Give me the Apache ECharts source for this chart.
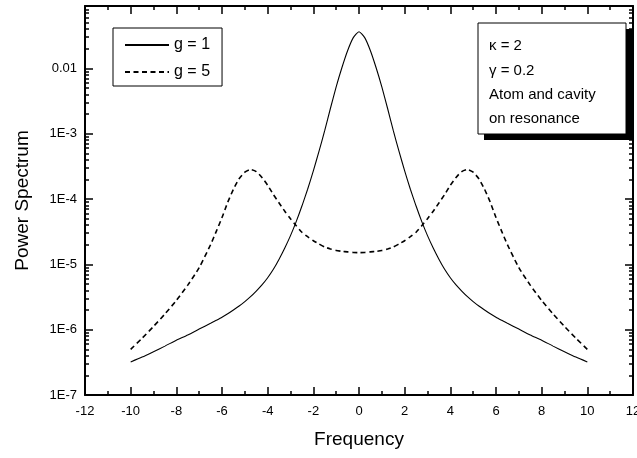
<!DOCTYPE html>
<html>
<head>
<meta charset="utf-8">
<script src="https://cdn.jsdelivr.net/npm/echarts@6/dist/echarts.min.js"></script>
<style>
html,body{margin:0;padding:0;background:#fff;}
#chart{width:637px;height:458px;}
</style>
</head>
<body>
<div id="chart"></div>
<script>
// ---- data ----
const freq = [-10,-9.5,-9,-8.5,-8,-7.5,-7,-6.5,-6.25,-6,-5.75,-5.5,-5.25,-5,-4.75,-4.5,-4.25,-4,-3.75,-3.5,-3.25,-3,-2.75,-2.5,-2.25,-2,-1.75,-1.5,-1.25,-1,-0.75,-0.5,-0.25,0,
  0.25,0.5,0.75,1,1.25,1.5,1.75,2,2.25,2.5,2.75,3,3.25,3.5,3.75,4,4.25,4.5,4.75,5,5.25,5.5,5.75,6,6.25,6.5,7,7.5,8,8.5,9,9.5,10];
const g1 = [3.2e-7,3.8e-7,4.6e-7,5.6e-7,6.9e-7,8.3e-7,1.02e-6,1.25e-6,1.39e-6,1.55e-6,1.75e-6,2.0e-6,2.3e-6,2.69e-6,3.2e-6,3.9e-6,4.84e-6,6.24e-6,8.4e-6,1.2e-5,1.78e-5,2.75e-5,4.5e-5,7.8e-5,1.41e-4,2.7e-4,5.4e-4,1.12e-3,2.45e-3,5.2e-3,1.02e-2,1.86e-2,2.95e-2,3.63e-2,
  2.95e-2,1.86e-2,1.02e-2,5.2e-3,2.45e-3,1.12e-3,5.4e-4,2.7e-4,1.41e-4,7.8e-5,4.5e-5,2.75e-5,1.78e-5,1.2e-5,8.4e-6,6.24e-6,4.84e-6,3.9e-6,3.2e-6,2.69e-6,2.3e-6,2.0e-6,1.75e-6,1.55e-6,1.39e-6,1.25e-6,1.02e-6,8.3e-7,6.9e-7,5.6e-7,4.6e-7,3.8e-7,3.2e-7];
const g5 = [5.0e-7,7.4e-7,1.12e-6,1.74e-6,2.8e-6,4.8e-6,8.9e-6,2.0e-5,3.2e-5,5.2e-5,8.9e-5,1.41e-4,2.04e-4,2.57e-4,2.82e-4,2.63e-4,2.14e-4,1.62e-4,1.17e-4,8.7e-5,6.5e-5,5.0e-5,3.9e-5,3.1e-5,2.65e-5,2.3e-5,2.05e-5,1.84e-5,1.72e-5,1.63e-5,1.58e-5,1.55e-5,1.52e-5,1.51e-5,
  1.52e-5,1.55e-5,1.58e-5,1.63e-5,1.72e-5,1.84e-5,2.05e-5,2.3e-5,2.65e-5,3.1e-5,3.9e-5,5.0e-5,6.5e-5,8.7e-5,1.17e-4,1.62e-4,2.14e-4,2.63e-4,2.82e-4,2.57e-4,2.04e-4,1.41e-4,8.9e-5,5.2e-5,3.2e-5,2.0e-5,8.9e-6,4.8e-6,2.8e-6,1.74e-6,1.12e-6,7.4e-7,5.0e-7];
const seriesNames = ['g = 1', 'g = 5'];
const yTickExps = [-7,-6,-5,-4,-3,-2];
const yTickLabels = ['1E-7','1E-6','1E-5','1E-4','1E-3','0.01'];
const xMin = -12, xMax = 12, xStep = 2;
const yMin = 1e-7, yMax = 0.09;
const infoLines = ['\u03BA = 2', '\u03B3 = 0.2', 'Atom and cavity', 'on resonance'];

// ---- chart ----
const FONT = 'Liberation Sans, Arial, sans-serif';
const lgMin = Math.log10(yMin), lgMax = Math.log10(yMax);
const minorLog = [];
for (let e = -7; e <= -2; e++) {
  for (let k = 2; k <= 9; k++) {
    const v = Math.log10(k) + e;
    if (v < lgMax - 1e-6) minorLog.push(v);
  }
}
const labelMap = {};
yTickExps.forEach((e, i) => labelMap[e] = yTickLabels[i]);

const chart = echarts.init(document.getElementById('chart'), null, {renderer: 'canvas'});
const axisLine = {show: true, onZero: false, lineStyle: {color: '#000', width: 2}};
const noLine = {show: false, onZero: false};
const tickStyle = {color: '#000', width: 1.5};

function tickAxisY(pos, vals, len, showLine) {
  return {
    type: 'value', position: pos, min: lgMin, max: lgMax, gridIndex: 0,
    axisLine: showLine ? axisLine : noLine,
    axisTick: {show: true, inside: true, length: len, lineStyle: tickStyle, customValues: vals},
    axisLabel: {show: false}, splitLine: {show: false}
  };
}

const option = {
  animation: false,
  backgroundColor: '#fff',
  grid: {left: 85, right: 4, top: 6, bottom: 63, containLabel: false, outerBoundsMode: 'none'},
  legend: {
    data: seriesNames,
    orient: 'vertical', left: 113, top: 28,
    padding: [9, 12, 6, 11],
    borderColor: '#000', borderWidth: 1, borderRadius: 0,
    itemWidth: 44, itemHeight: 14, itemGap: 11,
    itemStyle: {color: 'rgba(0,0,0,0)', borderWidth: 0, opacity: 0},
    textStyle: {fontFamily: FONT, fontSize: 16, color: '#000'}
  },
  xAxis: [
    {
      type: 'value', position: 'bottom', min: xMin, max: xMax, interval: xStep,
      axisLine: axisLine,
      axisTick: {show: true, inside: true, length: 8, lineStyle: tickStyle},
      minorTick: {show: true, splitNumber: 2, length: 4, lineStyle: tickStyle},
      axisLabel: {show: true, margin: 10, color: '#000', fontFamily: FONT, fontSize: 13},
      splitLine: {show: false}, minorSplitLine: {show: false},
      name: 'Frequency', nameLocation: 'middle', nameGap: 35,
      nameTextStyle: {fontFamily: FONT, fontSize: 19, color: '#000'}
    },
    {
      type: 'value', position: 'top', min: xMin, max: xMax, interval: xStep,
      axisLine: axisLine,
      axisTick: {show: true, inside: true, length: 8, lineStyle: tickStyle},
      minorTick: {show: true, splitNumber: 2, length: 4, lineStyle: tickStyle},
      axisLabel: {show: false}, splitLine: {show: false}, minorSplitLine: {show: false}
    }
  ],
  yAxis: [
    {
      type: 'log', logBase: 10, min: yMin, max: yMax, position: 'left',
      axisLine: axisLine,
      axisTick: {show: false},
      axisLabel: {
        show: true, margin: 8, color: '#000', fontFamily: FONT, fontSize: 13,
        showMaxLabel: false,
        formatter: function (v) {
          const e = Math.round(Math.log10(v));
          if (Math.abs(Math.log10(v) - e) > 1e-6) return '';
          return labelMap[e] || '';
        }
      },
      splitLine: {show: false},
      name: 'Power Spectrum', nameLocation: 'middle', nameGap: 53,
      nameTextStyle: {fontFamily: FONT, fontSize: 19, color: '#000'}
    },
    tickAxisY('left', yTickExps, 8, false),
    tickAxisY('left', minorLog, 4, false),
    tickAxisY('right', yTickExps, 8, true),
    tickAxisY('right', minorLog, 4, false)
  ],
  series: [
    {
      name: seriesNames[0], type: 'line', xAxisIndex: 0, yAxisIndex: 0,
      data: freq.map((x, i) => [x, g1[i]]),
      showSymbol: false, symbol: 'none', smooth: 0.2,
      lineStyle: {color: '#000', width: 1.1, type: 'solid'},
      itemStyle: {color: '#000'}
    },
    {
      name: seriesNames[1], type: 'line', xAxisIndex: 0, yAxisIndex: 0,
      data: freq.map((x, i) => [x, g5[i]]),
      showSymbol: false, symbol: 'none', smooth: 0.2,
      lineStyle: {color: '#000', width: 1.6, type: [5, 3.5]},
      itemStyle: {color: '#000'}
    }
  ],
  graphic: [
    {type: 'rect', shape: {x: 484, y: 29, width: 148, height: 111}, style: {fill: '#000'}, z: 10},
    {type: 'rect', shape: {x: 478, y: 23, width: 148, height: 111}, style: {fill: '#fff', stroke: '#000', lineWidth: 1}, z: 11},
    {type: 'text', left: 489, top: 38, z: 12, style: {text: infoLines[0], font: '15px ' + FONT, fill: '#000'}},
    {type: 'text', left: 489, top: 63, z: 12, style: {text: infoLines[1], font: '15px ' + FONT, fill: '#000'}},
    {type: 'text', left: 489, top: 87, z: 12, style: {text: infoLines[2], font: '15px ' + FONT, fill: '#000'}},
    {type: 'text', left: 489, top: 111, z: 12, style: {text: infoLines[3], font: '15px ' + FONT, fill: '#000'}}
  ]
};
chart.setOption(option);
</script>
</body>
</html>
